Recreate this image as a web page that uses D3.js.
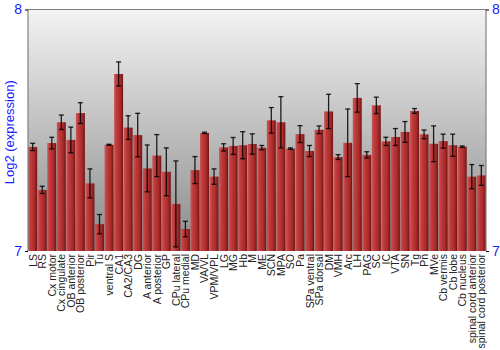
<!DOCTYPE html>
<html>
<head>
<meta charset="utf-8">
<script src="https://d3js.org/d3.v7.min.js"></script>
<style>
    body { margin:0; background:#fff; }
    #chart text { font-family: "Liberation Sans", Arial, sans-serif; }
</style>
</head>
<body>
<div id="chart"></div>
<script>
var regions = ["LS","RS","Cx motor","Cx cingulate","OB anterior","OB posterior","Pir","Tu",
    "ventral S","CA1","CA2/CA3","DG","A anterior","A posterior","GP","CPu lateral","CPu medial",
    "MD","VA/VL","VPM/VPL","LG","MG","Hb","M","ME","SCN","MPA","SO","Pa","SPa ventral",
    "SPa dorsal","DM","VMH","Arc","LH","PAG","SC","IC","VTA","SN","Tg","Pn","MVe",
    "Cb vermis","Cb lobe","Cb nucleus","spinal cord anterior","spinal cord posterior"];

var means = [7.431,7.253,7.447,7.533,7.460,7.571,7.280,7.111,
    7.440,7.733,7.511,7.480,7.342,7.395,7.328,7.195,7.091,
    7.335,7.489,7.308,7.429,7.435,7.438,7.443,7.428,7.541,7.533,7.424,7.484,7.414,
    7.502,7.578,7.389,7.448,7.634,7.398,7.603,7.454,7.472,7.493,7.580,7.483,7.444,
    7.455,7.438,7.432,7.308,7.313];

var errors = [0.015,0.015,0.024,0.030,0.053,0.043,0.060,0.040,
    0.002,0.050,0.049,0.090,0.097,0.087,0.099,0.178,0.032,
    0.056,0.003,0.032,0.015,0.035,0.056,0.042,0.009,0.053,0.106,0.003,0.035,0.023,
    0.016,0.071,0.010,0.140,0.059,0.013,0.034,0.017,0.035,0.043,0.010,0.018,0.074,
    0.029,0.046,0.003,0.050,0.041];

var yTicks = [7, 8];
var yLabel = "Log2 (expression)";

var chart = {
    width: 500,
    height: 350,
    left: 28,
    right: 486,
    top: 9.5,
    bottom: 251
};

var svg = d3.select("#chart").append("svg")
    .attr("width", chart.width)
    .attr("height", chart.height);

var defs = svg.append("defs");

// grey background fading to darker at the bottom
var bg = defs.append("linearGradient")
    .attr("id", "bgGrad")
    .attr("x1", 0).attr("y1", 0).attr("x2", 0).attr("y2", 1);
bg.append("stop").attr("offset", "0%").attr("stop-color", "#f3f3f3");
bg.append("stop").attr("offset", "100%").attr("stop-color", "#8a8a8a");

// bar shading, lighter on the left side
var bar = defs.append("linearGradient")
    .attr("id", "barGrad")
    .attr("x1", 0).attr("y1", 0).attr("x2", 1).attr("y2", 0);
bar.append("stop").attr("offset", "0%").attr("stop-color", "#c85a5a");
bar.append("stop").attr("offset", "25%").attr("stop-color", "#c23c3c");
bar.append("stop").attr("offset", "70%").attr("stop-color", "#a82a2a");
bar.append("stop").attr("offset", "100%").attr("stop-color", "#6e1414");

var x = d3.scaleBand()
    .domain(regions)
    .range([chart.left, chart.right])
    .paddingInner(0.06)
    .paddingOuter(0.02);

var y = d3.scaleLinear()
    .domain([7, 8])
    .range([chart.bottom, chart.top]);

svg.append("rect")
    .attr("x", chart.left)
    .attr("y", chart.top)
    .attr("width", chart.right - chart.left)
    .attr("height", chart.bottom - chart.top)
    .style("fill", "url(#bgGrad)");

var data = regions.map(function(r, i) {
    return {name: r, mean: means[i], err: errors[i]};
});

svg.append("g").selectAll("rect")
    .data(data)
    .enter()
    .append("rect")
    .attr("x", function(d) { return x(d.name); })
    .attr("y", function(d) { return y(d.mean); })
    .attr("width", x.bandwidth())
    .attr("height", function(d) { return y(7) - y(d.mean); })
    .style("fill", "url(#barGrad)");

// error bars
var eb = svg.append("g")
    .style("stroke", "#000")
    .style("stroke-opacity", 0.85)
    .style("stroke-width", 1.3);

data.forEach(function(d) {
    var cx = x(d.name) + x.bandwidth() / 2;
    var hi = y(d.mean + d.err), lo = y(d.mean - d.err);
    eb.append("line").attr("x1", cx).attr("x2", cx).attr("y1", hi).attr("y2", lo);
    eb.append("line").attr("x1", cx - 2.5).attr("x2", cx + 2.5).attr("y1", hi).attr("y2", hi);
    eb.append("line").attr("x1", cx - 2.5).attr("x2", cx + 2.5).attr("y1", lo).attr("y2", lo);
});

// frame: left, top and right edges
svg.append("path")
    .attr("d", "M" + chart.left + "," + chart.bottom + "V" + chart.top + "H" + chart.right + "V" + chart.bottom)
    .style("fill", "none")
    .style("stroke", "#808080")
    .style("stroke-width", 1.2);

var yAxisL = d3.axisLeft(y).tickValues(yTicks).tickSize(3).tickFormat(d3.format("d"));
var yAxisR = d3.axisRight(y).tickValues(yTicks).tickSize(3).tickFormat(d3.format("d"));

var gl = svg.append("g")
    .attr("transform", "translate(" + chart.left + ",0)")
    .call(yAxisL);
var gr = svg.append("g")
    .attr("transform", "translate(" + chart.right + ",0)")
    .call(yAxisR);

[gl, gr].forEach(function(g) {
    g.select(".domain").remove();
    g.selectAll("line").style("stroke", "#000");
    g.selectAll("text")
        .style("fill", "#1a1aff")
        .style("font-size", "14px")
        .style("font-family", "Liberation Sans, Arial, sans-serif");
});

svg.append("text")
    .attr("transform", "translate(14," + ((chart.top + chart.bottom) / 2 + 2) + ")rotate(-90)")
    .attr("text-anchor", "middle")
    .style("fill", "#1a1aff")
    .style("font-size", "13px")
    .text(yLabel);

// category labels, rotated
svg.append("g").selectAll("text")
    .data(regions)
    .enter()
    .append("text")
    .attr("transform", function(d) {
        return "translate(" + (x(d) + x.bandwidth() / 2 + 4) + "," + (chart.bottom + 3) + ")rotate(-90)";
    })
    .attr("text-anchor", "end")
    .style("fill", "#222")
    .style("font-size", "10.5px")
    .text(function(d) { return d; });
</script>
</body>
</html>
